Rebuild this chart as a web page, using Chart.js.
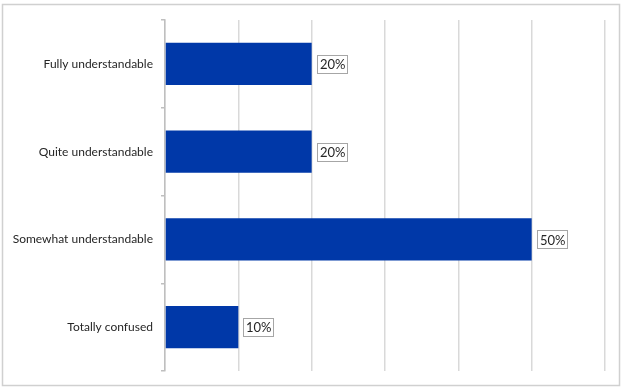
<!DOCTYPE html>
<html>
<head>
<meta charset="utf-8">
<script src="https://cdn.jsdelivr.net/npm/chart.js@4"></script>
<style>
html,body{margin:0;padding:0;background:#fff;}
#wrap{width:624px;height:390px;position:relative;}
</style>
</head>
<body>
<div id="wrap"><canvas id="c" width="624" height="390"></canvas></div>
<script>
const categories = ["Fully understandable", "Quite understandable", "Somewhat understandable", "Totally confused"];
const values = [20, 20, 50, 10];
const xTicks = [0, 10, 20, 30, 40, 50, 60];

const FONT = "Lato, 'Open Sans', sans-serif";

const frame = {
  id: 'frame',
  beforeDraw(chart) {
    const ctx = chart.ctx;
    ctx.save();
    ctx.fillStyle = '#ffffff';
    ctx.fillRect(0, 0, chart.width, chart.height);
    ctx.strokeStyle = '#d0d0d0';
    ctx.lineWidth = 1.5;
    ctx.strokeRect(2.5, 4.5, 617, 381);
    ctx.restore();
  }
};

const labels = {
  id: 'boxlabels',
  afterDatasetsDraw(chart) {
    const ctx = chart.ctx;
    const meta = chart.getDatasetMeta(0);
    ctx.save();
    ctx.font = "13px " + FONT;
    ctx.textBaseline = 'middle';
    ctx.textAlign = 'left';
    meta.data.forEach((bar, i) => {
      const txt = values[i] + '%';
      const w = ctx.measureText(txt).width;
      const bx = Math.round(bar.x) + 5.5;
      const bh = 18;
      const bw = Math.round(w + 5);
      const by = Math.round(bar.y - bh / 2) + 0.5;
      ctx.fillStyle = '#fff';
      ctx.fillRect(bx, by, bw, bh);
      ctx.strokeStyle = '#a6a6a6';
      ctx.lineWidth = 1;
      ctx.strokeRect(bx, by, bw, bh);
      ctx.fillStyle = '#262626';
      ctx.fillText(txt, bx + 2.5, bar.y + 1);
    });
    ctx.restore();
  }
};

new Chart(document.getElementById('c'), {
  type: 'bar',
  data: {
    labels: categories,
    datasets: [{
      data: values,
      backgroundColor: '#0038A8',
      borderWidth: 0,
      categoryPercentage: 1.0,
      barPercentage: 0.48
    }]
  },
  options: {
    indexAxis: 'y',
    responsive: false,
    animation: false,
    devicePixelRatio: 1,
    layout: { padding: { left: 0, top: 20, right: 19, bottom: 19 } },
    plugins: { legend: { display: false }, tooltip: { enabled: false } },
    scales: {
      x: {
        min: 0, max: 60,
        afterBuildTicks(axis) { axis.ticks = xTicks.map(v => ({ value: v })); },
        ticks: { display: false },
        grid: { color: '#d9d9d9', lineWidth: 1.5, drawTicks: false },
        border: { display: false },
        afterFit(axis) { axis.height = 0; }
      },
      y: {
        afterFit(axis) { axis.width = 165; },
        ticks: { color: '#262626', font: { family: FONT, size: 12 }, padding: 8 },
        grid: { drawOnChartArea: false, color: '#bfbfbf', tickLength: 4, lineWidth: 1.5 },
        border: { color: '#bfbfbf', width: 1.5 }
      }
    }
  },
  plugins: [frame, labels]
});
</script>
</body>
</html>
